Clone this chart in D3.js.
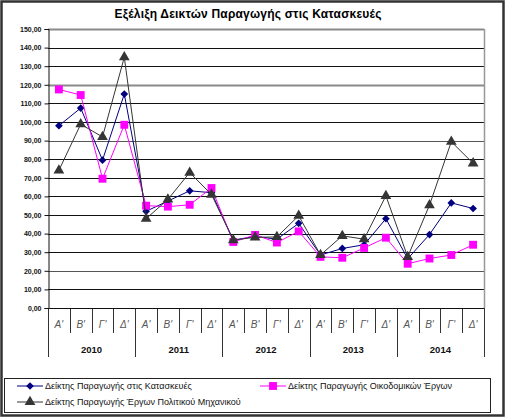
<!DOCTYPE html>
<html>
<head>
<meta charset="utf-8">
<script src="https://cdn.jsdelivr.net/npm/d3@7"></script>
<style>
  body { margin: 0; background: #fff; }
  svg { display: block; font-family: "Liberation Sans", Arial, sans-serif; }
</style>
</head>
<body>
<svg id="chart" width="508" height="420"></svg>
<script>
// data
var years = ["2010", "2011", "2012", "2013", "2014"];
var quarters = ["Α'", "Β'", "Γ'", "Δ'"];
var yTicks = [0, 10, 20, 30, 40, 50, 60, 70, 80, 90, 100, 110, 120, 130, 140, 150];

var constructionIdx = [98, 107.5, 79.5, 115, 52, 57.5, 63, 62, 36.5, 38.5, 37, 45.5, 28.5, 32, 34, 48, 26.5, 39.5, 56.5, 53.5];
var buildingIdx = [117.5, 114.5, 69.5, 98.5, 55, 54.5, 55.5, 64.5, 35.5, 39.3, 35.2, 41.2, 27.5, 27, 32.3, 37.8, 23.8, 26.6, 28.5, 34];
var civilIdx = [74, 98.8, 92, 134.8, 48, 58.4, 72.8, 61, 36.5, 38, 38.2, 49.6, 28.5, 38.8, 37, 60.3, 27.5, 55.3, 89.4, 77.8];

var seriesNames = [
  "Δείκτης Παραγωγής στις Κατασκευές",
  "Δείκτης Παραγωγής Οικοδομικών Έργων",
  "Δείκτης Παραγωγής Έργων Πολιτικού Μηχανικού"
];

(function() {
  var svg = d3.select("#chart");

  var pLeft = 48, pRight = 484, pTop = 29, pBottom = 308;

  // outer frame
  svg.append("rect")
    .attr("x", 1.5).attr("y", 1.5)
    .attr("width", 502).attr("height", 414)
    .attr("fill", "#fff")
    .attr("stroke", "#333").attr("stroke-width", 2.5);

  // title
  svg.append("text")
    .attr("x", 248).attr("y", 18)
    .attr("text-anchor", "middle")
    .style("font-weight", "bold")
    .style("font-size", "12px")
    .style("letter-spacing", "0.2px")
    .text("Εξέλιξη Δεικτών Παραγωγής στις Κατασκευές");

  var cats = [];
  years.forEach(function(yr) {
    quarters.forEach(function(q) { cats.push(yr + "|" + q); });
  });

  var x = d3.scaleBand().domain(cats).range([pLeft, pRight]);
  var y = d3.scaleLinear().domain([0, 150]).range([pBottom, pTop]);

  // gridlines
  svg.append("g").selectAll("line")
    .data(yTicks)
    .enter().append("line")
      .attr("x1", pLeft).attr("x2", pRight)
      .attr("y1", function(d) { return Math.round(y(d)) + 0.5; })
      .attr("y2", function(d) { return Math.round(y(d)) + 0.5; })
      .attr("stroke", function(d) {
        if (d === 150 || d === 120) return "#8a8a8a";
        if (d === 90 || d === 20) return "#555";
        return "#111";
      })
      .attr("stroke-width", function(d) { return (d === 150 || d === 120) ? 2 : 1; });

  // plot right border
  svg.append("line")
    .attr("x1", pRight + 0.5).attr("x2", pRight + 0.5)
    .attr("y1", pTop).attr("y2", pBottom)
    .attr("stroke", "#999").attr("stroke-width", 1.5);

  // y axis
  var yAxis = svg.append("g")
    .attr("transform", "translate(" + (pLeft + 0.5) + ",0)")
    .call(d3.axisLeft(y).tickValues(yTicks).tickSize(4).tickPadding(3)
      .tickFormat(function(d) { return d3.format(".2f")(d).replace(".", ","); }));
  yAxis.select(".domain").attr("stroke", "#111");
  yAxis.selectAll(".tick line").attr("stroke", "#111");
  yAxis.selectAll(".tick text")
    .attr("fill", "#111")
    .style("font-size", "7px")
    .style("font-weight", "bold")
    .style("font-family", "Liberation Sans, Arial, sans-serif");

  // category axis: quarter separators and year separators
  var bounds = d3.range(cats.length + 1).map(function(i) {
    return i < cats.length ? x(cats[i]) : pRight;
  });
  svg.append("g").selectAll("line")
    .data(bounds)
    .enter().append("line")
      .attr("x1", function(d) { return Math.round(d) + 0.5; })
      .attr("x2", function(d) { return Math.round(d) + 0.5; })
      .attr("y1", pBottom)
      .attr("y2", function(d, i) { return i % 4 === 0 ? 357 : 333; })
      .attr("stroke", "#333").attr("stroke-width", 1);

  svg.append("line")
    .attr("x1", pLeft).attr("x2", pRight)
    .attr("y1", pBottom + 0.5).attr("y2", pBottom + 0.5)
    .attr("stroke", "#111");

  svg.append("g").selectAll("text")
    .data(cats)
    .enter().append("text")
      .attr("x", function(d) { return x(d) + x.bandwidth() / 2; })
      .attr("y", 328)
      .attr("text-anchor", "middle")
      .attr("fill", "#555")
      .style("font-size", "10px")
      .style("font-style", "italic")
      .text(function(d) { return d.split("|")[1]; });

  svg.append("g").selectAll("text")
    .data(years)
    .enter().append("text")
      .attr("x", function(d) { return x(d + "|" + quarters[0]) + x.bandwidth() * 2; })
      .attr("y", 353)
      .attr("text-anchor", "middle")
      .attr("fill", "#111")
      .style("font-size", "9.5px")
      .style("font-weight", "bold")
      .text(function(d) { return d; });

  // series
  var series = [
    { name: seriesNames[0], values: constructionIdx, color: "#000080", symbol: d3.symbolDiamond2, size: 38 },
    { name: seriesNames[1], values: buildingIdx, color: "#ff00ff", symbol: d3.symbolSquare, size: 62 },
    { name: seriesNames[2], values: civilIdx, color: "#353535", symbol: d3.symbolTriangle, size: 50 }
  ];

  var line = d3.line()
    .x(function(d, i) { return x(cats[i]) + x.bandwidth() / 2; })
    .y(function(d) { return y(d); });

  series.forEach(function(s) {
    var g = svg.append("g");
    g.append("path")
      .attr("d", line(s.values))
      .attr("fill", "none")
      .attr("stroke", s.color)
      .attr("stroke-width", 1);
    g.selectAll("path.pt")
      .data(s.values)
      .enter().append("path")
        .attr("class", "pt")
        .attr("d", d3.symbol().type(s.symbol).size(s.size))
        .attr("transform", function(d, i) {
          return "translate(" + (x(cats[i]) + x.bandwidth() / 2) + "," + y(d) + ")";
        })
        .attr("fill", s.color);
  });

  // legend
  svg.append("rect")
    .attr("x", 4.5).attr("y", 378.5)
    .attr("width", 486).attr("height", 34)
    .attr("fill", "#fff")
    .attr("stroke", "#222").attr("stroke-width", 1);

  var legendPos = [
    { x: 17, y: 386 },
    { x: 260, y: 386 },
    { x: 17, y: 402 }
  ];

  series.forEach(function(s, i) {
    var p = legendPos[i];
    var lg = svg.append("g").attr("transform", "translate(" + p.x + "," + p.y + ")");
    lg.append("line")
      .attr("x1", 0).attr("x2", 26)
      .attr("stroke", s.color).attr("stroke-width", 1);
    lg.append("path")
      .attr("d", d3.symbol().type(s.symbol).size(s.size))
      .attr("transform", "translate(13,0)")
      .attr("fill", s.color);
    lg.append("text")
      .attr("x", 28).attr("y", 3)
      .attr("fill", "#111")
      .style("font-size", "9px")
      .text(s.name);
  });
})();
</script>
</body>
</html>
